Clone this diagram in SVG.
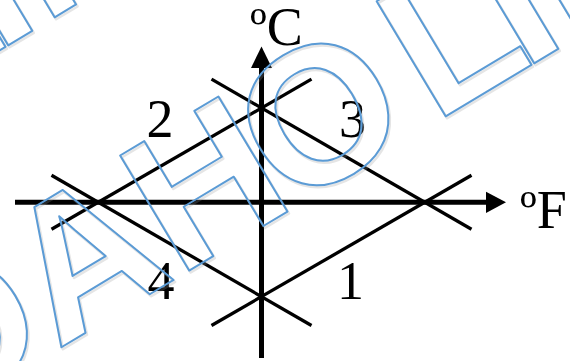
<svg xmlns="http://www.w3.org/2000/svg" width="570" height="361" viewBox="0 0 570 361">
<style>
.axis{stroke:#000;stroke-width:5;fill:none}
.ln{stroke:#000;stroke-width:3.3;fill:none;stroke-linecap:butt}
.lbl{font-family:"Liberation Serif","Times New Roman",serif;font-size:54px;fill:#000}
.wm{font-family:"Liberation Sans",Arial,sans-serif;font-weight:bold;font-size:195px;fill:none;stroke:#5b9bd5;stroke-width:2;stroke-linejoin:round}
.wms{font-family:"Liberation Sans",Arial,sans-serif;font-weight:bold;font-size:195px;fill:none;stroke:#9a9a9a;stroke-width:2.5;stroke-linejoin:round;opacity:0.25}
</style>
<rect width="570" height="361" fill="#fff"/>
<g id="connectors">
<line class="axis" x1="15" y1="202.3" x2="488" y2="202.3"/>
<polygon points="506,202.3 486,191.7 486,213" fill="#000"/>
<line class="axis" x1="261.5" y1="358" x2="261.5" y2="66"/>
<polygon points="261.5,46.5 251,68 272,68" fill="#000"/>
<line class="ln" x1="51.5" y1="229.3" x2="311.5" y2="79.1"/>
<line class="ln" x1="211.5" y1="79.1" x2="471.5" y2="229.3"/>
<line class="ln" x1="51.5" y1="175.3" x2="311.5" y2="325.5"/>
<line class="ln" x1="211.5" y1="325.5" x2="471.5" y2="175.3"/>
</g>
<g id="axis-c"><text class="lbl" x="250" y="45">ºC</text></g>
<g id="axis-f"><text class="lbl" x="520" y="228">ºF</text></g>
<g id="label-2"><text class="lbl" x="146.5" y="137">2</text></g>
<g id="label-3"><text class="lbl" x="339" y="137">3</text></g>
<g id="label-4"><text class="lbl" x="147.5" y="299">4</text></g>
<g id="label-1"><text class="lbl" x="337" y="299">1</text></g>
<g id="watermark">
<g transform="translate(191.5,272) rotate(-31)"><text class="wms" x="-295.8" y="0" dx="0 0 0 -12 19 -16 0">DAHOLIN</text></g>
<g transform="translate(-334.5,254) rotate(-31)"><text class="wms" x="-295.8" y="0" dx="0 0 0 -12 19 -16 0">DAHOLIN</text></g>
<g transform="translate(190,270) rotate(-31)"><text class="wm" x="-295.8" y="0" dx="0 0 0 -12 19 -16 0">DAHOLIN</text></g>
<g transform="translate(-336,252) rotate(-31)"><text class="wm" x="-295.8" y="0" dx="0 0 0 -12 19 -16 0">DAHOLIN</text></g>
</g>
</svg>
